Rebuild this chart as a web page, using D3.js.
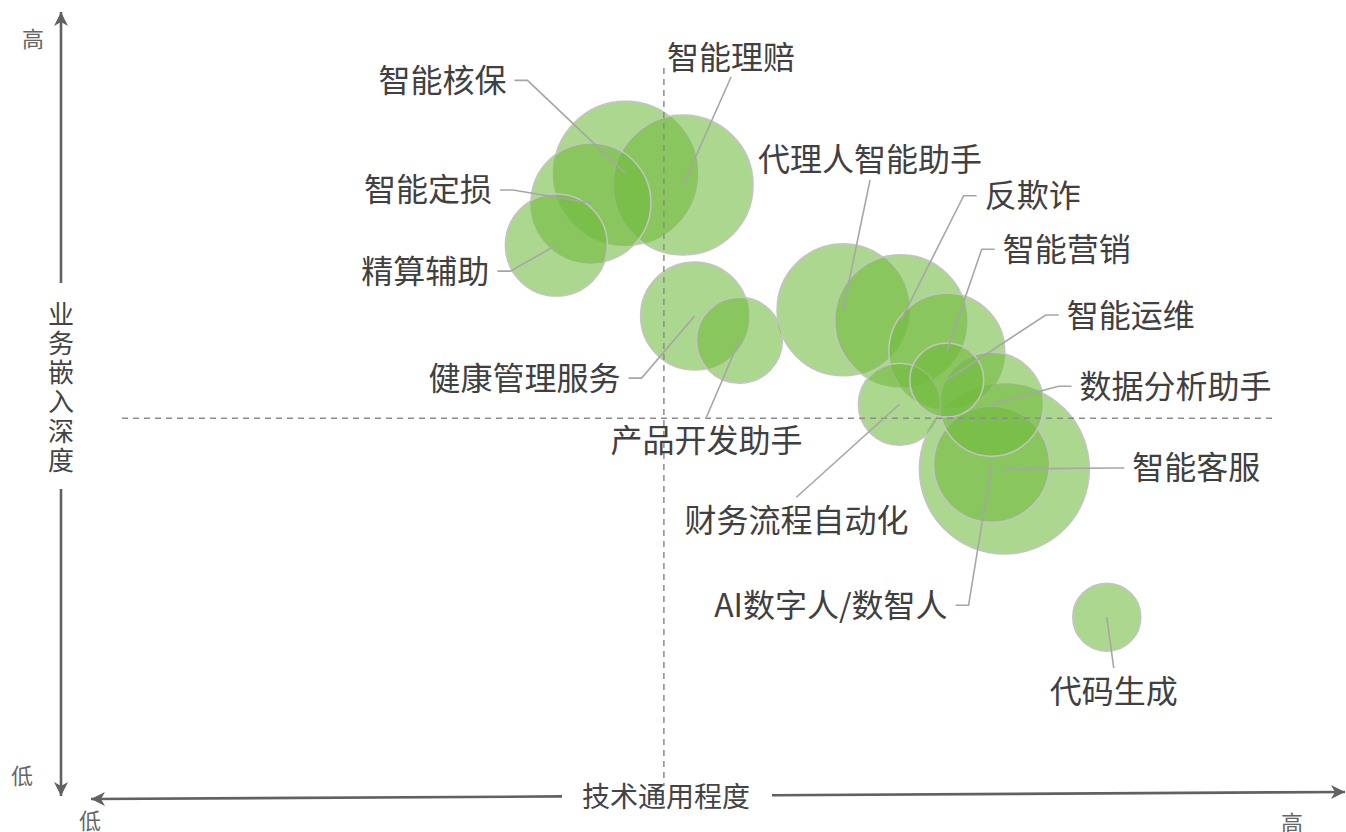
<!DOCTYPE html>
<html>
<head>
<meta charset="utf-8">
<script src="https://cdn.jsdelivr.net/npm/d3@7"></script>
<style>
  html, body { margin: 0; padding: 0; background: #fff; }
  svg { display: block; font-family: "Noto Sans CJK SC", "Noto Sans", sans-serif; }
  .bubble { fill: rgb(112,186,60); fill-opacity: 0.58; stroke: #c4c4c4; stroke-width: 1.5; }
  .leader { fill: none; stroke: #a6a6a6; stroke-width: 1.6; }
  .guide { stroke: #8c8c8c; stroke-width: 1.5; stroke-dasharray: 6,5; }
  .axis-line { stroke: #616161; stroke-width: 2.6; fill: none; }
  .lbl { fill: #404040; font-size: 32px; }
  .axis-title { fill: #444; font-size: 28px; }
  .end-lbl { fill: #666; font-size: 22px; }
</style>
</head>
<body>
<svg id="chart" width="1346" height="832"></svg>
<script>
// scenario names, technology generality (x), business depth (y), relative bubble size
const names = [
  "智能核保", "智能理赔", "智能定损", "精算辅助", "健康管理服务", "产品开发助手",
  "代理人智能助手", "反欺诈", "智能营销", "智能运维", "数据分析助手",
  "财务流程自动化", "智能客服", "AI数字人/数智人", "代码生成"
];
const generality = [4.41, 4.86, 4.14, 3.87, 4.95, 5.30, 6.11, 6.56, 6.92, 6.92, 7.27, 6.55, 7.37, 7.27, 8.17];
const depth      = [7.97, 7.82, 7.59, 7.05, 6.14, 5.83, 6.22, 6.08, 5.69, 5.32, 5.01, 5.01, 4.18, 4.24, 2.28];
const sizes      = [64, 60.5, 44.4, 32.1, 36, 22.8, 53.8, 53.8, 41.5, 16.9, 33.4, 20.8, 89.2, 41.5, 14.3];

// quadrant split values
const splitX = 4.71;
const splitY = 4.83;

const axisEnds = { low: "低", high: "高" };
const xTitle = "技术通用程度";
const yTitle = "业务嵌入深度";

// label placement (pixel offsets from bubble centre) -- layout only
// side: "left" = text ends at point, "right" = text starts at point, "above"/"below" = centred
const labelLayout = [
  { side: "left",  dx: -119, dy: -93 },
  { side: "above", dx: 48,   dy: -128 },
  { side: "left",  dx: -99,  dy: -13 },
  { side: "left",  dx: -67,  dy: 26 },
  { side: "left",  dx: -74,  dy: 62 },
  { side: "below", dx: -33,  dy: 100 },
  { side: "above", dx: 27,   dy: -150 },
  { side: "right", dx: 84,   dy: -125 },
  { side: "right", dx: 56,   dy: -102 },
  { side: "right", dx: 120,  dy: -65 },
  { side: "right", dx: 88,   dy: -18 },
  { side: "below", dx: -103, dy: 116 },
  { side: "right", dx: 128,  dy: -1 },
  { side: "left",  dx: -44,  dy: 141 },
  { side: "below", dx: 7,    dy: 74 }
];
const TEXT_SHIFT = -2.5; // nudges glyphs up to sit on the leader elbow

const svg = d3.select("#chart");

const x = d3.scaleLinear().domain([0, 10]).range([61, 1341]);
const y = d3.scaleLinear().domain([0, 10]).range([795, 15]);
const r = d3.scaleSqrt().domain([0, 100]).range([0, 90]);

const rows = names.map((n, i) => ({
  name: n, gx: generality[i], dy: depth[i], size: sizes[i], lay: labelLayout[i]
}));

// arrow marker
const defs = svg.append("defs");
defs.append("marker")
  .attr("id", "arrow")
  .attr("viewBox", "0 0 16 16")
  .attr("refX", 15).attr("refY", 8)
  .attr("markerWidth", 16).attr("markerHeight", 16)
  .attr("markerUnits", "userSpaceOnUse")
  .attr("orient", "auto")
  .append("path")
  .attr("d", "M15,8 L1,1 L5,8 L1,15 Z")
  .attr("fill", "#616161");

// bubbles, bigger ones behind
const sorted = rows.slice().sort((a, b) => b.size - a.size);
svg.append("g").selectAll("circle")
  .data(sorted)
  .join("circle")
  .attr("class", "bubble")
  .attr("cx", d => x(d.gx))
  .attr("cy", d => y(d.dy))
  .attr("r", d => r(d.size));

// quadrant guides
svg.append("line").attr("class", "guide")
  .attr("x1", x(splitX)).attr("x2", x(splitX))
  .attr("y1", 68).attr("y2", 786);
svg.append("line").attr("class", "guide")
  .attr("x1", 122).attr("x2", 1272)
  .attr("y1", y(splitY)).attr("y2", y(splitY));

// leaders + labels
const GAP = 8, ELBOW = 13;
function leaderPath(d) {
  const cx = x(d.gx), cy = y(d.dy);
  const lx = cx + d.lay.dx, ly = cy + d.lay.dy;
  const p = d3.path();
  if (d.lay.side === "left") {
    p.moveTo(lx + GAP, ly); p.lineTo(lx + GAP + ELBOW, ly); p.lineTo(cx, cy);
  } else if (d.lay.side === "right") {
    p.moveTo(lx - GAP, ly); p.lineTo(lx - GAP - ELBOW, ly); p.lineTo(cx, cy);
  } else if (d.lay.side === "above") {
    p.moveTo(lx, ly + 20); p.lineTo(cx, cy);
  } else {
    p.moveTo(lx, ly - 23); p.lineTo(cx, cy);
  }
  return p.toString();
}

svg.append("g").selectAll("path")
  .data(rows)
  .join("path")
  .attr("class", "leader")
  .attr("d", leaderPath);

svg.append("g").selectAll("text")
  .data(rows)
  .join("text")
  .attr("class", "lbl")
  .attr("x", d => x(d.gx) + d.lay.dx)
  .attr("y", d => y(d.dy) + d.lay.dy + TEXT_SHIFT)
  .attr("dominant-baseline", "central")
  .attr("text-anchor", d => d.lay.side === "left" ? "end" : d.lay.side === "right" ? "start" : "middle")
  .text(d => d.name);

// axes with arrows and gaps for the titles
svg.append("line").attr("class", "axis-line")
  .attr("x1", 61).attr("y1", 283).attr("x2", 61).attr("y2", 12)
  .attr("marker-end", "url(#arrow)");
svg.append("line").attr("class", "axis-line")
  .attr("x1", 61).attr("y1", 489).attr("x2", 61).attr("y2", 796)
  .attr("marker-end", "url(#arrow)");
svg.append("line").attr("class", "axis-line")
  .attr("x1", 562).attr("y1", 796.4).attr("x2", 91).attr("y2", 799)
  .attr("marker-end", "url(#arrow)");
svg.append("line").attr("class", "axis-line")
  .attr("x1", 772).attr("y1", 795.2).attr("x2", 1345).attr("y2", 792)
  .attr("marker-end", "url(#arrow)");

svg.append("text").attr("class", "axis-title")
  .attr("x", 666).attr("y", 795)
  .attr("text-anchor", "middle").attr("dominant-baseline", "central")
  .text(xTitle);

svg.append("g").selectAll("text")
  .data(Array.from(yTitle))
  .join("text")
  .attr("class", "axis-title")
  .attr("x", 61)
  .attr("y", (c, i) => 312 + i * 29.3)
  .attr("text-anchor", "middle").attr("dominant-baseline", "central")
  .style("font-size", "26px")
  .text(c => c);

const ends = [
  { t: axisEnds.high, x: 33, y: 37 },
  { t: axisEnds.low, x: 22, y: 774 },
  { t: axisEnds.low, x: 90, y: 819 },
  { t: axisEnds.high, x: 1292, y: 821 }
];
svg.append("g").selectAll("text")
  .data(ends)
  .join("text")
  .attr("class", "end-lbl")
  .attr("x", d => d.x).attr("y", d => d.y)
  .attr("text-anchor", "middle").attr("dominant-baseline", "central")
  .text(d => d.t);
</script>
</body>
</html>
